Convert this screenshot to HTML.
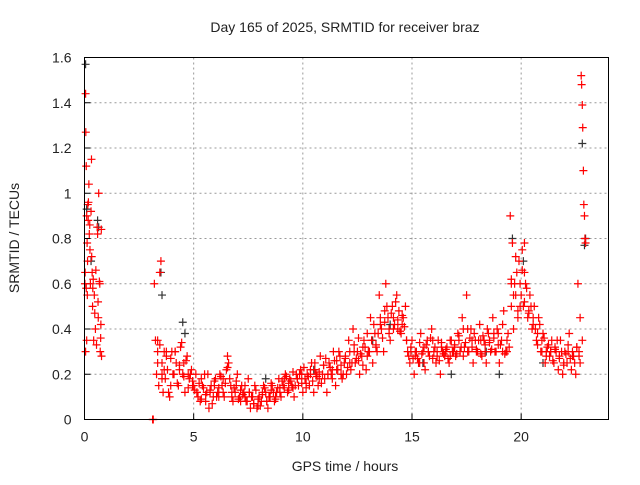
<!DOCTYPE html>
<html><head><meta charset="utf-8"><style>
html,body{margin:0;padding:0;background:#fff;}
svg text{font-family:"Liberation Sans",sans-serif;font-size:14px;fill:#222;}
</style></head><body>
<svg id="chart" width="640" height="480" xmlns="http://www.w3.org/2000/svg">
<text x="345" y="32" text-anchor="middle">Day 165 of 2025, SRMTID for receiver braz</text>
<text x="345" y="471" text-anchor="middle">GPS time / hours</text>
<text x="19" y="238" text-anchor="middle" transform="rotate(-90 19 238)">SRMTID / TECUs</text>
<g id="grid"></g>
<g id="ticks"></g>
<g id="black"></g>
<g id="red"></g>
<rect x="84.5" y="57.5" width="524" height="362" fill="none" stroke="#000" stroke-width="1"/>
</svg>
<script>
const xTicks=[0,5,10,15,20];
const yTicks=[0,0.2,0.4,0.6,0.8,1,1.2,1.4,1.6];
const yTickLabels=["0","0.2","0.4","0.6","0.8","1","1.2","1.4","1.6"];
const redX=[0.02,0.03,0.05,0.06,0.08,0.1,0.12,0.13,0.15,0.17,0.2,0.22,0.25,0.27,0.3,0.32,0.35,0.37,0.4,0.42,0.45,0.5,0.55,0.58,0.6,0.63,0.65,0.7,0.72,0.75,0.78,0.05,0.1,
3.12,3.15,3.2,3.25,3.3,3.35,3.4,3.45,3.5,3.55,3.6,3.65,3.7,3.8,3.9,4.0,4.1,4.2,4.3,4.4,4.5,4.6,4.7,4.8,4.9,5.0,5.1,5.2,5.3,5.4,5.5,5.6,5.7,5.8,5.9,6.0,6.1,6.2,6.3,6.4,6.5,6.6,6.7,6.8,6.9,7.0,7.1,7.2,7.3,7.4,7.5,7.6,7.7,7.8,7.9,8.0,8.1,8.2,8.3,8.4,8.5,8.6,8.7,8.8,8.9,9.0,9.1,9.2,9.3,9.4,9.5,9.6,9.7,9.8,9.9,10.0,10.1,10.2,10.3,10.4,10.5,10.6,10.7,10.8,10.9,11.0,11.1,11.2,11.3,11.4,11.5,11.6,11.7,11.8,11.9,12.0,12.1,12.2,12.3,12.4,12.5,12.6,12.7,12.8,12.9,13.0,13.1,13.2,13.3,13.4,13.5,13.6,13.7,13.8,13.9,14.0,14.1,14.2,14.3,14.4,14.5,14.6,14.7,14.8,14.9,15.0,15.1,15.2,15.3,15.4,15.5,15.6,15.7,15.8,15.9,16.0,16.1,16.2,16.3,16.4,16.5,16.6,16.7,16.8,16.9,17.0,17.1,17.2,17.3,17.4,17.5,17.6,17.7,17.8,17.9,18.0,18.1,18.2,18.3,18.4,18.5,18.6,18.7,18.8,18.9,19.0,19.1,19.2,19.3,19.4,19.5,19.55,19.6,19.65,19.7,19.8,19.85,19.9,20.0,20.05,20.1,20.15,20.2,20.3,20.4,20.5,20.6,20.7,20.8,20.9,21.0,21.1,21.2,21.3,21.4,21.5,21.6,21.7,21.8,21.9,22.0,22.1,22.2,22.3,22.4,22.5,22.6,22.65,22.7,22.75,22.77,22.8,22.82,22.85,22.87,22.9,22.92,22.95,22.7,22.8,
0.08,0.14,0.18,0.24,0.33,0.38,0.47,0.52,0.62,0.68,0.74,0.77];
const redY=[0.6,0.65,1.44,1.27,1.12,0.9,0.78,0.55,0.95,0.88,1.04,0.82,0.75,0.6,0.92,1.15,0.65,0.5,0.62,0.35,0.55,0.4,0.33,0.85,0.82,0.45,1.0,0.6,0.3,0.42,0.28,0.3,0.35,
0,0,0.6,0.35,0.2,0.3,0.15,0.65,0.7,0.25,0.12,0.3,0.18,0.22,0.1,0.3,0.2,0.25,0.15,0.32,0.2,0.12,0.28,0.18,0.22,0.15,0.2,0.1,0.08,0.15,0.2,0.12,0.05,0.15,0.1,0.18,0.12,0.2,0.15,0.1,0.22,0.25,0.15,0.08,0.12,0.2,0.1,0.15,0.12,0.08,0.18,0.05,0.1,0.15,0.05,0.1,0.08,0.15,0.12,0.05,0.1,0.15,0.08,0.12,0.18,0.1,0.15,0.2,0.12,0.18,0.15,0.1,0.2,0.15,0.22,0.12,0.18,0.2,0.15,0.25,0.12,0.2,0.15,0.28,0.2,0.18,0.12,0.25,0.2,0.3,0.15,0.22,0.28,0.18,0.25,0.2,0.35,0.22,0.4,0.25,0.3,0.2,0.28,0.35,0.22,0.3,0.45,0.25,0.38,0.3,0.55,0.4,0.3,0.6,0.45,0.35,0.5,0.42,0.55,0.48,0.38,0.45,0.5,0.3,0.25,0.35,0.2,0.3,0.25,0.38,0.3,0.22,0.35,0.28,0.4,0.3,0.25,0.35,0.2,0.3,0.28,0.32,0.25,0.35,0.3,0.28,0.38,0.3,0.45,0.32,0.55,0.3,0.4,0.25,0.35,0.3,0.42,0.28,0.35,0.25,0.38,0.3,0.45,0.3,0.4,0.25,0.35,0.48,0.3,0.38,0.9,0.5,0.78,0.4,0.6,0.65,0.45,0.7,0.55,0.75,0.5,0.78,0.6,0.45,0.55,0.4,0.5,0.35,0.45,0.3,0.38,0.25,0.32,0.28,0.35,0.25,0.3,0.22,0.35,0.2,0.3,0.25,0.38,0.22,0.28,0.2,0.6,0.3,0.45,1.52,1.48,1.39,1.29,1.1,0.95,0.9,0.8,0.78,0.25,0.35,
0.58,0.7,0.96,0.86,0.72,0.58,0.47,0.66,0.52,0.61,0.36,0.84];
const redX2=[3.35,3.55,3.75,3.95,4.15,4.35,4.55,4.75,4.95,5.15,5.35,5.55,5.75,5.95,6.15,6.35,6.55,6.75,6.95,7.15,7.35,7.55,7.75,7.95,8.15,8.35,8.55,8.75,8.95,9.15,9.35,9.55,9.75,9.95,10.15,10.35,10.55,10.75,10.95,11.15,11.35,11.55,11.75,11.95,12.15,12.35,12.55,12.75,12.95,13.15,13.35,13.55,13.75,13.95,14.15,14.35,14.55,14.75,14.95,15.15,15.35,15.55,15.75,15.95,16.15,16.35,16.55,16.75,16.95,17.15,17.35,17.55,17.75,17.95,18.15,18.35,18.55,18.75,18.95,19.15,19.35,19.55,19.75,19.95,20.15,20.35,20.55,20.75,20.95,21.15,21.35,21.55,21.75,21.95,22.15,22.35,22.55];
const redY2=[0.35,0.2,0.28,0.15,0.3,0.22,0.25,0.2,0.15,0.12,0.18,0.08,0.12,0.15,0.1,0.18,0.28,0.12,0.15,0.08,0.1,0.12,0.07,0.06,0.12,0.08,0.13,0.1,0.14,0.18,0.16,0.14,0.18,0.2,0.16,0.2,0.22,0.18,0.24,0.2,0.22,0.26,0.2,0.28,0.25,0.3,0.26,0.32,0.28,0.35,0.32,0.42,0.48,0.4,0.45,0.4,0.42,0.35,0.3,0.28,0.25,0.32,0.3,0.35,0.28,0.32,0.3,0.28,0.32,0.35,0.28,0.4,0.35,0.3,0.35,0.3,0.35,0.38,0.33,0.3,0.3,0.6,0.55,0.5,0.65,0.48,0.45,0.38,0.35,0.3,0.3,0.32,0.28,0.25,0.3,0.28,0.32];
const redX3=[3.35,3.45,3.55,3.65,3.75,3.85,3.95,4.05,4.15,4.25,4.35,4.45,4.55,4.65,4.75,4.85,4.95,5.05,5.15,5.25,5.35,5.45,5.55,5.65,5.75,5.85,5.95,6.05,6.15,6.25,6.35,6.45,6.55,6.65,6.75,6.85,6.95,7.05,7.15,7.25,7.35,7.45,7.55,7.65,7.75,7.85,7.95,8.05,8.15,8.25,8.35,8.45,8.55,8.65,8.75,8.85,8.95,9.05,9.15,9.25,9.35,9.45,9.55,9.65,9.75,9.85,9.95,10.05,10.15,10.25,10.35,10.45,10.55,10.65,10.75,10.85,10.95,11.05,11.15,11.25,11.35,11.45,11.55,11.65,11.75,11.85,11.95,12.05,12.15,12.25,12.35,12.45,12.55,12.65,12.75,12.85,12.95,13.05,13.15,13.25,13.35,13.45,13.55,13.65,13.75,13.85,13.95,14.05,14.15,14.25,14.35,14.45,14.55,14.65,14.75,14.85,14.95,15.05,15.15,15.25,15.35,15.45,15.55,15.65,15.75,15.85,15.95,16.05,16.15,16.25,16.35,16.45,16.55,16.65,16.75,16.85,16.95,17.05,17.15,17.25,17.35,17.45,17.55,17.65,17.75,17.85,17.95,18.05,18.15,18.25,18.35,18.45,18.55,18.65,18.75,18.85,18.95,19.05,19.15,19.25,19.35,19.45,19.55,19.65,19.75,19.85,19.95,20.05,20.15,20.25,20.35,20.45,20.55,20.65,20.75,20.85,20.95,21.05,21.15,21.25,21.35,21.45,21.55,21.65,21.75,21.85,21.95,22.05,22.15,22.25,22.35,22.45,22.55,22.65];
const redY3=[0.25,0.33,0.18,0.22,0.3,0.12,0.27,0.2,0.3,0.16,0.24,0.34,0.19,0.26,0.14,0.2,0.17,0.13,
0.12,0.16,0.09,0.14,0.11,0.2,0.13,0.07,0.17,0.1,0.14,0.19,0.12,0.16,0.23,0.18,0.1,0.14,0.17,0.09,0.13,0.11,0.15,0.08,0.12,0.1,0.07,0.13,0.09,0.06,0.11,0.14,0.08,0.1,0.16,0.12,0.09,0.14,0.12,0.17,
0.14,0.19,0.13,0.17,0.21,0.15,0.18,0.2,0.16,0.23,0.14,0.19,0.22,0.17,0.25,0.19,0.21,0.16,0.24,0.27,0.2,0.23,0.18,0.26,0.22,0.3,0.24,0.2,0.27,0.23,
0.3,0.25,0.33,0.27,0.36,0.29,0.24,0.32,0.38,0.3,0.35,0.42,0.33,0.38,0.45,0.36,0.43,0.5,0.38,0.47,0.4,0.52,0.44,0.39,0.46,0.41,0.35,0.28,0.32,0.27,
0.3,0.27,0.34,0.29,0.25,0.33,0.3,0.36,0.27,0.32,0.3,0.26,0.34,0.29,0.31,0.27,0.35,0.3,0.33,0.29,0.37,0.32,0.4,0.34,0.3,0.36,0.32,0.38,0.31,0.35,0.29,0.37,0.33,0.4,0.34,0.31,0.36,0.3,0.38,0.33,0.42,0.29,0.35,0.32,
0.62,0.55,0.72,0.48,0.6,0.66,0.52,0.58,0.47,0.5,0.42,
0.4,0.33,0.42,0.3,0.36,0.28,0.33,0.3,0.26,0.31,0.35,0.27,0.3,0.24,0.29,0.33,0.27,0.3,0.25,0.32,0.28];
const blackX=[0.05,0.1,0.3,0.6,0.65,3.5,3.55,4.5,4.6,8.3,10.5,13.2,14.0,15.5,16.8,18.4,19.0,19.6,20.1,21.0,22.8,22.9,22.95];
const blackY=[1.57,0.93,0.7,0.88,0.85,0.65,0.55,0.43,0.38,0.18,0.22,0.35,0.42,0.25,0.2,0.3,0.2,0.8,0.7,0.25,1.22,0.77,0.8];
const L=84.5,R=608.5,T=57.5,B=419.5,XMAX=24,YMAX=1.6;
const xs=v=>L+(R-L)*v/XMAX, ys=v=>B-(B-T)*v/YMAX;
const NS="http://www.w3.org/2000/svg";
function mk(tag,attrs,parent){const e=document.createElementNS(NS,tag);for(const k in attrs)e.setAttribute(k,attrs[k]);parent.appendChild(e);return e;}
const grid=document.getElementById('grid'),ticks=document.getElementById('ticks');
xTicks.forEach(v=>{const x=xs(v);
 if(v>0){const g=mk('line',{x1:x,x2:x,y1:T,y2:B,stroke:'#999','stroke-dasharray':'2,3'},grid);
 
 }
 const t=mk('line',{x1:x,x2:x,y1:B,y2:B-6,stroke:'#000'},ticks);
 
 
 const lb=mk('text',{x:x,y:B+22,'text-anchor':'middle'},ticks);lb.textContent=v;
 
 });
yTicks.forEach((v,i)=>{const y=ys(v);
 if(v>0&&v<YMAX){const g=mk('line',{x1:L,x2:R,y1:y,y2:y,stroke:'#999','stroke-dasharray':'2,3'},grid);
 
 }
 const t=mk('line',{x1:L,x2:L+6,y1:y,y2:y,stroke:'#000'},ticks);
 
 
 const lb=mk('text',{x:L-13,y:y+5,'text-anchor':'end'},ticks);lb.textContent=yTickLabels[i];
 
 });
function plus(g,X,Y,color,name){for(let i=0;i<X.length;i++){const x=xs(X[i]),y=ys(Y[i]);
 const p=mk('path',{d:`M${x-4},${y}H${x+4}M${x},${y-4}V${y+4}`,stroke:color,'stroke-width':1.2,fill:'none'},g);
 
 }}
plus(document.getElementById('black'),blackX,blackY,'#333','black-point');
plus(document.getElementById('red'),redX,redY,'#f00','red-point');
plus(document.getElementById('red'),redX2,redY2,'#f00','red-point');
plus(document.getElementById('red'),redX3,redY3,'#f00','red-point');
</script>
</body></html>
